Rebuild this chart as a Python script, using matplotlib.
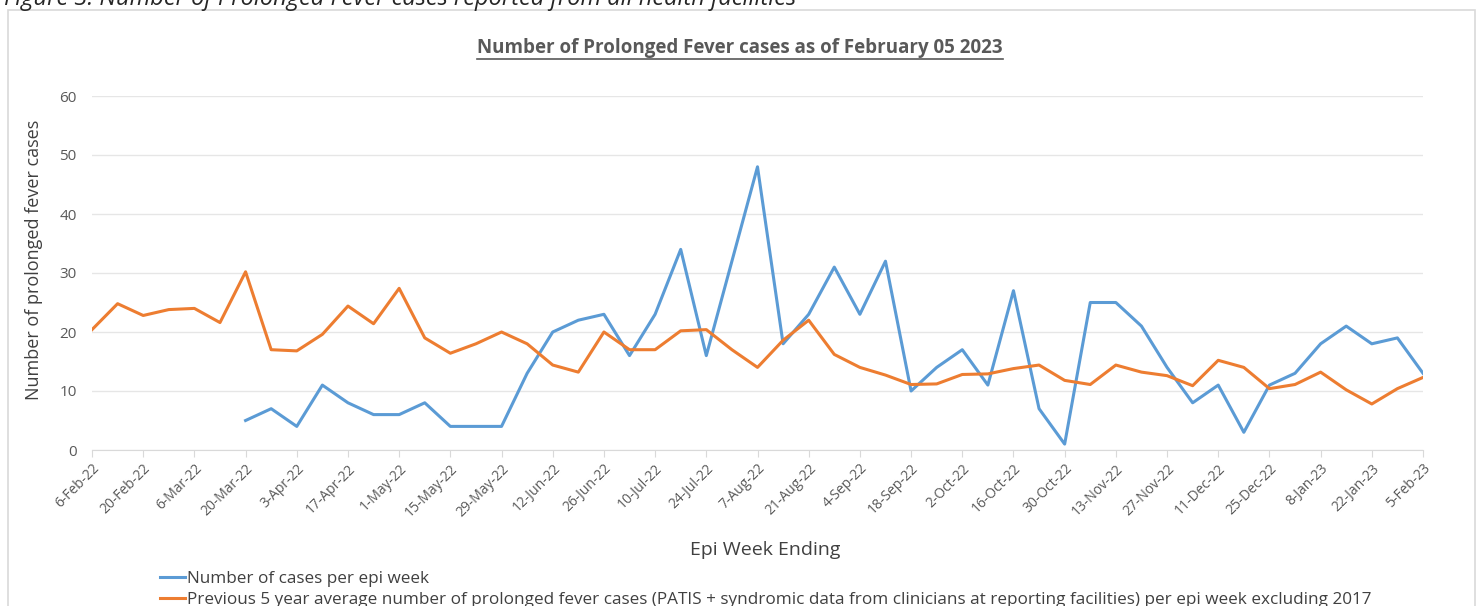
import matplotlib
matplotlib.use("Agg")
import matplotlib.pyplot as plt
from matplotlib.patches import Rectangle
import numpy as np

weeks = ["6-Feb-22", "13-Feb-22", "20-Feb-22", "27-Feb-22", "6-Mar-22", "13-Mar-22", "20-Mar-22",
         "27-Mar-22", "3-Apr-22", "10-Apr-22", "17-Apr-22", "24-Apr-22", "1-May-22", "8-May-22",
         "15-May-22", "22-May-22", "29-May-22", "5-Jun-22", "12-Jun-22", "19-Jun-22", "26-Jun-22",
         "3-Jul-22", "10-Jul-22", "17-Jul-22", "24-Jul-22", "31-Jul-22", "7-Aug-22", "14-Aug-22",
         "21-Aug-22", "28-Aug-22", "4-Sep-22", "11-Sep-22", "18-Sep-22", "25-Sep-22", "2-Oct-22",
         "9-Oct-22", "16-Oct-22", "23-Oct-22", "30-Oct-22", "6-Nov-22", "13-Nov-22", "20-Nov-22",
         "27-Nov-22", "4-Dec-22", "11-Dec-22", "18-Dec-22", "25-Dec-22", "1-Jan-23", "8-Jan-23",
         "15-Jan-23", "22-Jan-23", "29-Jan-23", "5-Feb-23"]

cases = [None, None, None, None, None, None, 5, 7, 4, 11, 8, 6, 6, 8, 4, 4, 4, 13, 20, 22, 23,
         16, 23, 34, 16, 32, 48, 18, 23, 31, 23, 32, 10, 14, 17, 11, 27, 7, 1, 25, 25, 21, 14,
         8, 11, 3, 11, 13, 18, 21, 18, 19, 13]

avg5 = [20.4, 24.8, 22.8, 23.8, 24.0, 21.6, 30.2, 17.0, 16.8, 19.6, 24.4, 21.4, 27.4, 19.0,
        16.4, 18.0, 20.0, 18.0, 14.4, 13.2, 20.0, 17.0, 17.0, 20.2, 20.4, 17.0, 14.0, 18.6,
        22.0, 16.2, 14.0, 12.7, 11.1, 11.2, 12.8, 12.9, 13.8, 14.4, 11.8, 11.1, 14.4, 13.2,
        12.6, 10.9, 15.2, 14.0, 10.4, 11.1, 13.2, 10.2, 7.8, 10.4, 12.3]

series_labels = ["Number of cases per epi week",
                 "Previous 5 year average number of prolonged fever cases (PATIS + syndromic data from clinicians at reporting facilities) per epi week excluding 2017"]

title = "Number of Prolonged Fever cases as of February 05 2023"
caption = "Figure 3: Number of Prolonged Fever cases reported from all health facilities"

plt.rcParams['font.family'] = ['Open Sans', 'DejaVu Sans']

W, H = 1478, 606
fig = plt.figure(figsize=(W / 100, H / 100), dpi=100)

def fx(px):
    return px / W

def fy(py):
    return 1 - py / H

ax = fig.add_axes([fx(92), fy(450), fx(1423) - fx(92), fy(96) - fy(450)])

x = np.arange(len(weeks))
cases_arr = np.array([np.nan if v is None else v for v in cases], dtype=float)

blue = "#5B9BD5"
orange = "#ED7D31"
ax.plot(x, cases_arr, color=blue, lw=2.2, label=series_labels[0], solid_joinstyle='round')
ax.plot(x, avg5, color=orange, lw=2.2, label=series_labels[1], solid_joinstyle='round')

ax.set_xlim(0, len(weeks) - 1)
ax.set_ylim(0, 60)
ax.set_yticks(range(0, 61, 10))
ax.yaxis.grid(True, color="#E6E6E6", lw=1)
ax.set_axisbelow(True)
ax.set_xticks(x[::2])
ax.set_xticklabels(weeks[::2], rotation=45, ha='right', rotation_mode='anchor',
                   fontsize=10, color="#595959")
ax.tick_params(axis='x', length=5, color="#D9D9D9", pad=3)
ax.tick_params(axis='y', length=0, labelsize=11, labelcolor="#595959", pad=11)
for s in ['top', 'right', 'left']:
    ax.spines[s].set_visible(False)
ax.spines['bottom'].set_color("#D9D9D9")

fig.text(fx(34), fy(260), "Number of prolonged fever cases", rotation=90, fontsize=13,
         color="#404040", ha='center', va='center')

fig.text(fx(765), fy(550), "Epi Week Ending", fontsize=14, color="#404040",
         ha='center', va='center')

t = fig.text(fx(740), fy(48), title, fontsize=13.5, fontweight='bold', color="#595959",
             ha='center', va='center')
fig.canvas.draw()
bb = t.get_window_extent()
fig.add_artist(plt.Line2D([bb.x0 / W, bb.x1 / W], [(bb.y0 - 1) / H, (bb.y0 - 1) / H],
                          transform=fig.transFigure, color="#595959", lw=1.2))

fig.text(fx(4), fy(5), caption, fontsize=17, style='italic', color="#262626",
         ha='left', va='baseline')

fig.add_artist(Rectangle((fx(8), fy(640)), fx(1475) - fx(8), fy(10) - fy(640),
                         transform=fig.transFigure, fill=False, edgecolor="#D9D9D9", lw=1.2))

leg = fig.legend(loc='upper left', bbox_to_anchor=(fx(160), fy(571)), frameon=False,
                 fontsize=12.35, handlelength=1.45, handletextpad=0.12, labelspacing=0.3,
                 labelcolor="#404040", borderaxespad=0, borderpad=0)

fig.savefig("out.png", dpi=100)
